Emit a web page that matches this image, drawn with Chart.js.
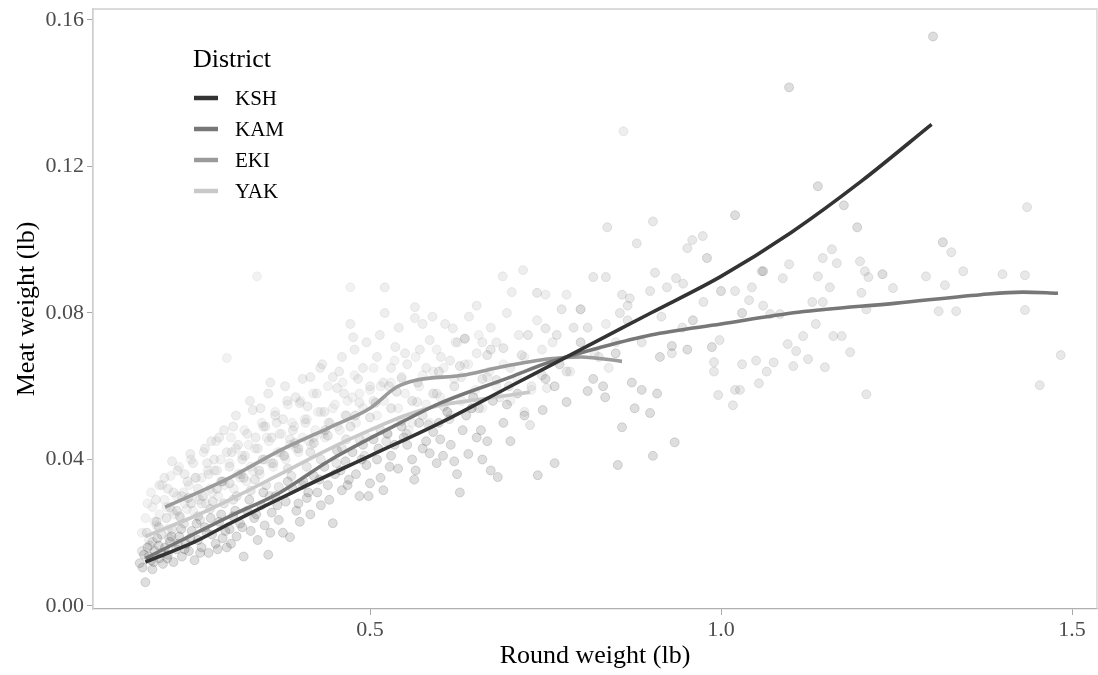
<!DOCTYPE html>
<html>
<head>
<meta charset="utf-8">
<script src="https://cdn.jsdelivr.net/npm/chart.js@4.4.1/dist/chart.umd.min.js"></script>
<style>
  html, body { margin: 0; padding: 0; background: #ffffff; }
  #wrap { width: 1098px; height: 675px; }
</style>
</head>
<body>
<div id="wrap"><canvas id="c" width="1098" height="675"></canvas></div>
<script>
// Districts, in legend order
const districts = ['KSH', 'KAM', 'EKI', 'YAK'];

// Axis ticks
const xTicks = [0.5, 1.0, 1.5];
const xTickLabels = ['0.5', '1.0', '1.5'];
const yTicks = [0.00, 0.04, 0.08, 0.12, 0.16];
const yTickLabels = ['0.00', '0.04', '0.08', '0.12', '0.16'];

// Individual scallops: round weight (lb) and meat weight (lb)
const kshX = [0.172,0.178,0.180,0.183,0.188,0.190,0.193,0.197,0.200,0.205,0.208,0.212,0.215,0.220,0.224,0.228,0.232,0.238,0.242,0.246,0.250,0.255,0.260,0.265,0.270,0.275,0.280,0.285,0.290,0.296,0.300,0.305,0.310,0.315,0.320,0.325,0.330,0.335,0.340,0.345,0.350,0.355,0.360,0.365,0.370,0.376,0.380,0.386,0.390,0.395,0.400,0.405,0.410,0.415,0.420,0.425,0.430,0.435,0.440,0.447,0.450,
  0.453,0.460,0.465,0.470,0.475,0.480,0.485,0.490,0.495,0.500,0.505,0.510,0.515,0.519,0.525,0.530,0.535,0.540,0.545,0.553,0.560,0.565,0.570,0.575,0.585,0.590,0.595,0.600,0.604,0.610,0.615,0.624,0.628,0.632,0.640,0.645,0.652,0.660,0.667,0.675,0.682,0.690,0.700,0.710,0.720,0.739,0.746,0.750,0.763,0.763,0.770,0.780,0.800,0.810,0.818,0.832,0.835,0.850,0.853,0.859,0.873,0.877,0.887,0.899,0.903,0.909,0.913,0.930,0.934,0.952,0.960,0.980,0.987,1.000,1.020,1.030,1.060,1.097,1.138,1.175,1.194,1.230,1.302,1.316,
  0.176,0.185,0.192,0.199,0.203,0.211,0.217,0.226,0.231,0.236,0.244,0.253,0.258,0.267,0.273,0.283,0.288,0.294,0.302,0.308,0.318,0.328,0.338,0.348,0.358,0.368,0.383,0.398,0.412,0.428,0.442,0.458,0.468,0.488,0.498,0.512,0.528,0.548,0.563,0.580,0.598,0.620,0.637,0.658,0.672,0.695];
const kshY = [0.0117,0.0140,0.0065,0.0160,0.0125,0.0100,0.0150,0.0185,0.0130,0.0115,0.0160,0.0140,0.0175,0.0120,0.0155,0.0190,0.0135,0.0170,0.0150,0.0205,0.0125,0.0180,0.0160,0.0215,0.0145,0.0195,0.0170,0.0230,0.0185,0.0160,0.0210,0.0245,0.0190,0.0225,0.0135,0.0260,0.0205,0.0240,0.0180,0.0275,0.0220,0.0140,0.0255,0.0300,0.0235,0.0200,0.0285,0.0188,0.0320,0.0260,0.0230,0.0340,0.0295,0.0250,0.0355,0.0310,0.0275,0.0380,0.0330,0.0226,0.0360,
  0.0425,0.0316,0.0395,0.0345,0.0420,0.0360,0.0300,0.0440,0.0385,0.0335,0.0455,0.0400,0.0350,0.0316,0.0470,0.0410,0.0440,0.0375,0.0490,0.0440,0.0400,0.0370,0.0500,0.0430,0.0417,0.0475,0.0390,0.0455,0.0410,0.0530,0.0440,0.0360,0.0310,0.0480,0.0415,0.0540,0.0460,0.0400,0.0450,0.0560,0.0352,0.0500,0.0450,0.0580,0.0520,0.0357,0.0535,0.0620,0.0390,0.0600,0.0660,0.0557,0.0720,0.0587,0.0620,0.0600,0.0570,0.0690,0.0385,0.0488,0.0610,0.0540,0.0590,0.0527,0.0410,0.0580,0.0680,0.0710,0.0447,0.0700,0.0780,0.0950,0.0707,0.0860,0.1067,0.0800,0.0914,0.1416,0.1146,0.1094,0.1034,0.0906,0.1555,0.0993,
  0.0105,0.0135,0.0120,0.0165,0.0145,0.0130,0.0190,0.0170,0.0210,0.0155,0.0185,0.0225,0.0145,0.0200,0.0240,0.0155,0.0250,0.0205,0.0170,0.0260,0.0215,0.0290,0.0250,0.0310,0.0200,0.0275,0.0340,0.0280,0.0310,0.0345,0.0290,0.0370,0.0330,0.0400,0.0300,0.0430,0.0380,0.0460,0.0345,0.0450,0.0500,0.0395,0.0520,0.0480,0.0370,0.0550];

const kamX = [0.175,0.182,0.190,0.196,0.203,0.210,0.218,0.225,0.235,0.245,0.255,0.262,0.272,0.282,0.292,0.300,0.310,0.320,0.330,0.342,0.352,0.362,0.370,0.378,0.388,0.398,0.410,0.420,0.430,0.440,0.460,0.472,0.485,0.500,0.515,0.530,0.545,0.560,0.575,0.590,0.605,0.620,0.635,0.647,0.660,0.667,0.680,0.690,0.716,0.728,0.738,0.750,0.766,0.773,0.780,0.800,0.810,0.818,0.838,0.836,0.856,0.859,0.867,0.867,0.880,0.887,0.899,0.903,0.906,0.923,0.930,0.936,0.946,0.952,0.959,0.974,0.990,0.990,0.996,0.998,1.017,1.020,1.020,1.027,1.030,1.040,1.044,1.050,1.054,1.058,1.060,1.065,1.070,1.075,1.084,1.088,1.095,1.097,1.103,1.107,1.117,1.124,1.130,1.135,1.138,1.145,1.145,1.148,1.155,1.158,1.160,1.165,1.172,1.184,1.198,1.200,1.205,1.207,1.207,1.210,1.245,1.292,1.310,1.319,1.328,1.335,1.345,1.401,1.433,1.433,1.436,1.454,1.484,
  0.186,0.199,0.214,0.229,0.241,0.258,0.276,0.288,0.305,0.316,0.336,0.347,0.357,0.383,0.393,0.404,0.415,0.436,0.452,0.466,0.479,0.492,0.508,0.523,0.538,0.552,0.568,0.583,0.598,0.613,0.628,0.655,0.672,0.698,0.725,0.745,0.790,0.826,0.870,0.915,0.945,0.975];
const kamY = [0.0150,0.0200,0.0175,0.0230,0.0195,0.0240,0.0210,0.0260,0.0225,0.0280,0.0245,0.0300,0.0265,0.0320,0.0280,0.0335,0.0300,0.0350,0.0315,0.0370,0.0330,0.0390,0.0325,0.0410,0.0355,0.0430,0.0380,0.0445,0.0400,0.0465,0.0430,0.0490,0.0455,0.0515,0.0480,0.0540,0.0505,0.0560,0.0520,0.0580,0.0545,0.0600,0.0730,0.0570,0.0620,0.0685,0.0617,0.0704,0.0685,0.0494,0.0855,0.0758,0.0740,0.0810,0.0640,0.0810,0.0760,0.0898,0.1034,0.0898,0.0800,0.0850,0.0820,0.0780,0.0990,0.0720,0.0860,0.1050,0.0910,0.0870,0.0690,0.0895,0.0880,0.0977,0.0999,0.1010,0.0666,0.0640,0.0576,0.0726,0.0548,0.0590,0.0860,0.0590,0.0660,0.0835,0.0870,0.0670,0.0608,0.0914,0.0820,0.0640,0.0797,0.0665,0.0797,0.0895,0.0715,0.0933,0.0655,0.0696,0.0737,0.0674,0.0830,0.0770,0.0900,0.0950,0.0830,0.0652,0.0870,0.0974,0.0737,0.0936,0.0737,0.0693,0.0941,0.0855,0.0914,0.0810,0.0578,0.0898,0.0868,0.0900,0.0805,0.0876,0.0966,0.0805,0.0914,0.0906,0.0903,0.0808,0.1089,0.0603,0.0685,
  0.0165,0.0215,0.0185,0.0245,0.0295,0.0235,0.0285,0.0340,0.0290,0.0360,0.0345,0.0400,0.0300,0.0375,0.0445,0.0330,0.0420,0.0480,0.0390,0.0455,0.0520,0.0410,0.0555,0.0450,0.0585,0.0470,0.0610,0.0495,0.0640,0.0510,0.0655,0.0540,0.0700,0.0600,0.0740,0.0630,0.0760,0.0680,0.0840,0.0790,0.0760,0.0830];

const ekiX = [0.195,0.200,0.207,0.215,0.220,0.226,0.232,0.240,0.248,0.255,0.260,0.265,0.270,0.278,0.285,0.290,0.296,0.300,0.305,0.312,0.318,0.325,0.333,0.340,0.348,0.355,0.360,0.365,0.372,0.376,0.382,0.390,0.400,0.408,0.415,0.420,0.429,0.435,0.447,0.453,0.460,0.466,0.472,0.476,0.485,0.490,0.500,0.510,0.519,0.521,0.521,0.530,0.536,0.545,0.550,0.564,0.564,0.567,0.575,0.580,0.585,0.595,0.607,0.614,0.618,0.630,0.635,0.647,0.652,0.652,0.660,0.667,0.680,0.685,0.689,0.700,0.702,0.718,0.720,0.730,0.738,0.745,0.750,0.752,0.760,0.780,0.785,0.800,0.820,0.836,0.840,0.850,0.861,
  0.212,0.218,0.236,0.244,0.252,0.268,0.274,0.282,0.292,0.303,0.309,0.322,0.329,0.337,0.344,0.351,0.358,0.367,0.379,0.386,0.394,0.404,0.411,0.424,0.432,0.441,0.456,0.463,0.478,0.483,0.495,0.505,0.514,0.527,0.541,0.553,0.571,0.589,0.601,0.622,0.641,0.672,0.695,0.712];
const ekiY = [0.0290,0.0330,0.0350,0.0270,0.0310,0.0370,0.0300,0.0340,0.0390,0.0320,0.0280,0.0430,0.0360,0.0400,0.0460,0.0340,0.0420,0.0380,0.0490,0.0440,0.0400,0.0470,0.0535,0.0430,0.0490,0.0580,0.0460,0.0520,0.0420,0.0510,0.0560,0.0480,0.0554,0.0500,0.0625,0.0460,0.0650,0.0530,0.0625,0.0595,0.0680,0.0520,0.0770,0.0734,0.0555,0.0650,0.0600,0.0680,0.0610,0.0870,0.0800,0.0650,0.0707,0.0625,0.0690,0.0816,0.0786,0.0557,0.0770,0.0650,0.0726,0.0580,0.0770,0.0670,0.0758,0.0625,0.0730,0.0570,0.0820,0.0690,0.0720,0.0625,0.0720,0.0570,0.0900,0.0650,0.0857,0.0917,0.0530,0.0600,0.0780,0.0700,0.0850,0.0595,0.0720,0.0850,0.0640,0.0810,0.0690,0.0770,0.0650,0.0720,0.1296,
  0.0320,0.0395,0.0360,0.0415,0.0350,0.0390,0.0450,0.0370,0.0480,0.0420,0.0520,0.0410,0.0560,0.0460,0.0540,0.0490,0.0610,0.0500,0.0600,0.0455,0.0570,0.0620,0.0545,0.0580,0.0660,0.0500,0.0640,0.0580,0.0700,0.0620,0.0720,0.0560,0.0740,0.0600,0.0760,0.0660,0.0700,0.0790,0.0680,0.0720,0.0790,0.0760,0.0800,0.0740];

const yakX = [0.175,0.180,0.185,0.190,0.196,0.200,0.207,0.212,0.218,0.225,0.230,0.236,0.242,0.248,0.254,0.260,0.266,0.272,0.278,0.284,0.290,0.296,0.300,0.306,0.312,0.318,0.324,0.330,0.336,0.339,0.343,0.350,0.356,0.362,0.368,0.374,0.380,0.386,0.392,0.398,0.404,0.410,0.416,0.422,0.430,0.436,0.443,0.450,0.457,0.465,0.472,0.475,0.480,0.490,0.500,0.510,0.520,0.530,0.540,0.550,0.560,0.570,0.580,0.590,0.600,0.610,0.620,0.630,0.640,0.650,0.660,0.670,0.680,0.690,0.700,0.710,0.720,0.730,
  0.183,0.188,0.193,0.204,0.210,0.216,0.221,0.228,0.234,0.239,0.245,0.251,0.257,0.263,0.269,0.275,0.281,0.287,0.293,0.302,0.309,0.315,0.321,0.327,0.333,0.346,0.353,0.359,0.365,0.371,0.377,0.383,0.389,0.395,0.401,0.407,0.413,0.419,0.426,0.433,0.440,0.447,0.454,0.461,0.468,0.478,0.485,0.495,0.505,0.515,0.525,0.535,0.545,0.555,0.565,0.575,0.585,0.595,0.605,0.615,0.625,0.635,0.645,0.655];
const yakY = [0.0200,0.0240,0.0180,0.0270,0.0220,0.0250,0.0290,0.0210,0.0260,0.0300,0.0240,0.0280,0.0330,0.0260,0.0300,0.0350,0.0280,0.0320,0.0370,0.0300,0.0340,0.0677,0.0390,0.0320,0.0360,0.0410,0.0340,0.0380,0.0430,0.0900,0.0360,0.0400,0.0450,0.0380,0.0420,0.0470,0.0400,0.0440,0.0490,0.0420,0.0460,0.0510,0.0440,0.0480,0.0530,0.0460,0.0500,0.0550,0.0480,0.0520,0.0870,0.0570,0.0500,0.0540,0.0590,0.0520,0.0560,0.0610,0.0540,0.0580,0.0500,0.0600,0.0550,0.0640,0.0570,0.0530,0.0620,0.0560,0.0660,0.0590,0.0540,0.0640,0.0600,0.0660,0.0560,0.0620,0.0680,0.0590,
  0.0280,0.0310,0.0230,0.0330,0.0270,0.0355,0.0250,0.0380,0.0310,0.0265,0.0400,0.0350,0.0290,0.0420,0.0370,0.0310,0.0450,0.0400,0.0330,0.0460,0.0430,0.0350,0.0480,0.0440,0.0370,0.0500,0.0460,0.0390,0.0530,0.0470,0.0410,0.0550,0.0500,0.0430,0.0560,0.0510,0.0450,0.0580,0.0530,0.0470,0.0600,0.0540,0.0490,0.0610,0.0560,0.0630,0.0580,0.0460,0.0650,0.0600,0.0470,0.0670,0.0620,0.0480,0.0680,0.0630,0.0500,0.0700,0.0650,0.0520,0.0720,0.0660,0.0540,0.0740];

// Smoothed fits per district
const kshFitX = [0.18,0.25,0.30,0.40,0.50,0.60,0.70,0.80,0.90,1.00,1.10,1.20,1.30];
const kshFitY = [0.0120,0.0175,0.0225,0.0320,0.0410,0.0500,0.0600,0.0700,0.0800,0.0900,0.1020,0.1160,0.1315];
const kamFitX = [0.18,0.30,0.372,0.443,0.543,0.60,0.70,0.756,0.83,0.90,1.00,1.11,1.25,1.37,1.43,1.48];
const kamFitY = [0.0130,0.0245,0.0310,0.0398,0.0500,0.0554,0.0625,0.0666,0.0707,0.0740,0.0770,0.0802,0.0827,0.0850,0.0857,0.0854];
const ekiFitX = [0.208,0.30,0.372,0.443,0.50,0.538,0.567,0.632,0.68,0.756,0.80,0.859];
const ekiFitY = [0.0270,0.0350,0.0425,0.0488,0.0540,0.0598,0.0617,0.0630,0.0650,0.0675,0.0680,0.0668];
const yakFitX = [0.18,0.25,0.30,0.372,0.443,0.50,0.55,0.60,0.66,0.728];
const yakFitY = [0.0190,0.0245,0.0290,0.0360,0.0430,0.0480,0.0520,0.0548,0.0565,0.0584];

const greys = ['#333333', '#777777', '#9b9b9b', '#c9c9c9'];
const pointFill = ['rgba(51,51,51,0.16)', 'rgba(102,102,102,0.15)', 'rgba(150,150,150,0.16)', 'rgba(190,190,190,0.20)'];

const toPts = (xs, ys) => xs.map((x, i) => ({ x: x, y: ys[i] }));
const pointSets = [[kshX, kshY], [kamX, kamY], [ekiX, ekiY], [yakX, yakY]];
const fitSets = [[kshFitX, kshFitY], [kamFitX, kamFitY], [ekiFitX, ekiFitY], [yakFitX, yakFitY]];

const datasets = [];
districts.forEach((d, i) => {
  datasets.push({
    type: 'line',
    label: d,
    data: toPts(fitSets[i][0], fitSets[i][1]),
    borderColor: greys[i],
    borderWidth: 3.6,
    pointRadius: 0,
    fill: false,
    cubicInterpolationMode: 'monotone',
    order: i,
    isFit: true
  });
});
districts.forEach((d, i) => {
  datasets.push({
    type: 'scatter',
    label: d + ' points',
    data: toPts(pointSets[i][0], pointSets[i][1]),
    backgroundColor: pointFill[i],
    borderColor: pointFill[i],
    borderWidth: 1,
    pointRadius: 4.5,
    order: 10 + i
  });
});

const serif = "'Liberation Serif', 'Times New Roman', serif";

// Panel frame and the in-panel legend
const framePlugin = {
  id: 'frame',
  beforeDatasetsDraw(chart) {
    const { ctx, chartArea: a } = chart;
    ctx.save();
    ctx.strokeStyle = '#cfcfcf';
    ctx.lineWidth = 1.3;
    ctx.beginPath();
    ctx.moveTo(a.left, a.bottom);
    ctx.lineTo(a.left, a.top);
    ctx.lineTo(a.right, a.top);
    ctx.lineTo(a.right, a.bottom);
    ctx.stroke();
    ctx.restore();
  },
  afterDraw(chart) {
    const { ctx } = chart;
    ctx.save();
    ctx.fillStyle = '#000000';
    ctx.textBaseline = 'middle';
    ctx.textAlign = 'left';
    ctx.font = '26px ' + serif;
    ctx.fillText('District', 193, 60);
    ctx.font = '21px ' + serif;
    const rows = [98, 129, 160, 191];
    chart.data.datasets.filter(ds => ds.isFit).forEach((ds, i) => {
      ctx.strokeStyle = ds.borderColor;
      ctx.lineWidth = 4.5;
      ctx.beginPath();
      ctx.moveTo(194, rows[i]);
      ctx.lineTo(218, rows[i]);
      ctx.stroke();
      ctx.fillText(ds.label, 235, rows[i] + 1);
    });
    ctx.restore();
  }
};

new Chart(document.getElementById('c'), {
  type: 'scatter',
  data: { datasets: datasets },
  options: {
    responsive: false,
    animation: false,
    devicePixelRatio: 1,
    layout: { autoPadding: false, padding: { left: 0, right: 1, top: 9, bottom: 0 } },
    plugins: { legend: { display: false }, tooltip: { enabled: false } },
    scales: {
      x: {
        type: 'linear',
        min: 0.1054,
        max: 1.5356,
        afterFit(s) { s.height = 66; s.paddingLeft = 0; s.paddingRight = 0; },
        afterBuildTicks(s) { s.ticks = xTicks.map(v => ({ value: v })); },
        grid: { drawOnChartArea: false, drawTicks: true, tickLength: 6, color: '#a8a8a8', lineWidth: 1 },
        border: { display: true, color: '#b0b0b0', width: 1.3 },
        ticks: {
          color: '#4d4d4d',
          font: { family: serif, size: 22 },
          padding: 2,
          maxRotation: 0,
          callback: (v, i) => xTickLabels[i]
        },
        title: {
          display: true,
          text: 'Round weight (lb)',
          color: '#000000',
          font: { family: serif, size: 26 },
          padding: { top: 0, bottom: 3 }
        }
      },
      y: {
        type: 'linear',
        min: -0.00082,
        max: 0.1630,
        afterFit(s) { s.width = 93; s.paddingTop = 0; s.paddingBottom = 0; },
        afterBuildTicks(s) { s.ticks = yTicks.map(v => ({ value: v })); },
        grid: { drawOnChartArea: false, drawTicks: true, tickLength: 6, color: '#a8a8a8', lineWidth: 1 },
        border: { display: true, color: '#cfcfcf', width: 1.3 },
        ticks: {
          color: '#4d4d4d',
          font: { family: serif, size: 22 },
          padding: 3,
          callback: (v, i) => yTickLabels[i]
        },
        title: {
          display: true,
          text: 'Meat weight (lb)',
          color: '#000000',
          font: { family: serif, size: 26 },
          padding: { top: 12, bottom: 0 }
        }
      }
    }
  },
  plugins: [framePlugin]
});
</script>
</body>
</html>
